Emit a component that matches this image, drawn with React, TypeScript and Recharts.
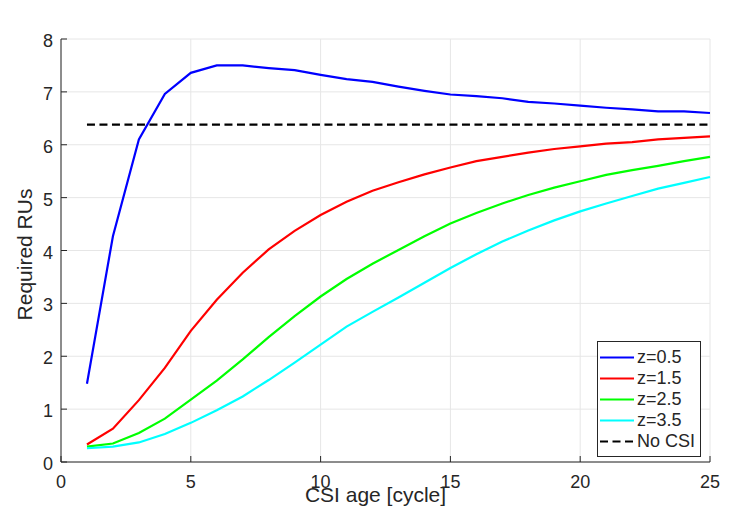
import { LineChart, Line, XAxis, YAxis, CartesianGrid, Legend } from "recharts";

const cycles = [1, 2, 3, 4, 5, 6, 7, 8, 9, 10, 11, 12, 13, 14, 15, 16, 17, 18, 19, 20, 21, 22, 23, 24, 25];

const z05 = [1.48, 4.27, 6.1, 6.96, 7.36, 7.5, 7.5, 7.45, 7.41, 7.32, 7.24, 7.19, 7.1, 7.02, 6.95, 6.92, 6.88, 6.81, 6.78, 6.74, 6.7, 6.67, 6.63, 6.63, 6.6];
const z15 = [0.33, 0.63, 1.17, 1.78, 2.48, 3.07, 3.58, 4.02, 4.37, 4.67, 4.92, 5.13, 5.29, 5.44, 5.57, 5.69, 5.77, 5.85, 5.92, 5.97, 6.02, 6.05, 6.1, 6.13, 6.16];
const z25 = [0.29, 0.35, 0.55, 0.82, 1.18, 1.54, 1.94, 2.36, 2.76, 3.13, 3.46, 3.75, 4.01, 4.27, 4.51, 4.71, 4.89, 5.05, 5.19, 5.31, 5.43, 5.52, 5.6, 5.69, 5.77];
const z35 = [0.26, 0.29, 0.37, 0.53, 0.74, 0.98, 1.24, 1.55, 1.88, 2.22, 2.56, 2.84, 3.11, 3.39, 3.67, 3.93, 4.17, 4.38, 4.57, 4.74, 4.89, 5.03, 5.17, 5.28, 5.39];
const noCsi = [6.38, 6.38, 6.38, 6.38, 6.38, 6.38, 6.38, 6.38, 6.38, 6.38, 6.38, 6.38, 6.38, 6.38, 6.38, 6.38, 6.38, 6.38, 6.38, 6.38, 6.38, 6.38, 6.38, 6.38, 6.38];

const xTicks = [0, 5, 10, 15, 20, 25];
const yTicks = [0, 1, 2, 3, 4, 5, 6, 7, 8];

const series = [
  { key: "z05", name: "z=0.5", color: "#0000ff", dash: undefined },
  { key: "z15", name: "z=1.5", color: "#ff0000", dash: undefined },
  { key: "z25", name: "z=2.5", color: "#00ff00", dash: undefined },
  { key: "z35", name: "z=3.5", color: "#00ffff", dash: undefined },
  { key: "noCsi", name: "No CSI", color: "#000000", dash: "8 4.5" },
];

const data = cycles.map((c, i) => ({
  cycle: c,
  z05: z05[i],
  z15: z15[i],
  z25: z25[i],
  z35: z35[i],
  noCsi: noCsi[i],
}));

const FONT = "'Liberation Sans', Arial, Helvetica, sans-serif";
const INK = "#262626";

const BottomTick = (props: any) => {
  const { x, y, payload } = props;
  return (
    <g>
      <line x1={x} y1={y} x2={x} y2={y - 6} stroke={INK} strokeWidth={1} />
      <text x={x} y={y + 26} textAnchor="middle" fill={INK} fontSize={18} fontFamily={FONT}>
        {payload.value}
      </text>
    </g>
  );
};

const LeftTick = (props: any) => {
  const { x, y, payload } = props;
  return (
    <g>
      <line x1={x} y1={y} x2={x + 6} y2={y} stroke={INK} strokeWidth={1} />
      <text x={x - 8} y={y + 8} textAnchor="end" fill={INK} fontSize={18} fontFamily={FONT}>
        {payload.value}
      </text>
    </g>
  );
};

const TopTick = (props: any) => {
  const { x, y } = props;
  return <line x1={x} y1={y} x2={x} y2={y + 6} stroke={INK} strokeWidth={1} />;
};

const RightTick = (props: any) => {
  const { x, y } = props;
  return <line x1={x} y1={y} x2={x - 6} y2={y} stroke={INK} strokeWidth={1} />;
};

const XLabel = (props: any) => {
  const vb = props.viewBox;
  return (
    <text x={vb.x + vb.width / 2 - 10} y={vb.y + 40} textAnchor="middle" fill={INK} fontSize={21} fontFamily={FONT}>
      CSI age [cycle]
    </text>
  );
};

const YLabel = (props: any) => {
  const vb = props.viewBox;
  const cx = 32;
  const cy = vb.y + vb.height / 2 + 4;
  return (
    <text x={cx} y={cy} transform={`rotate(-90, ${cx}, ${cy})`} textAnchor="middle" fill={INK} fontSize={21} fontFamily={FONT}>
      Required RUs
    </text>
  );
};

const LegendBox = () => (
  <div
    style={{
      width: 102,
      height: 109,
      border: `1px solid ${INK}`,
      background: "#fff",
      paddingTop: 5,
      boxSizing: "content-box",
      fontFamily: FONT,
      fontSize: 18,
      color: INK,
    }}
  >
    {series.map((s) => (
      <div key={s.key} style={{ display: "flex", alignItems: "center", height: 21 }}>
        <svg width={34} height={21} style={{ marginLeft: 2 }}>
          <line x1={0} y1={10.5} x2={34} y2={10.5} stroke={s.color} strokeWidth={2.2} strokeDasharray={s.dash} />
        </svg>
        <span style={{ marginLeft: 3, lineHeight: "21px", whiteSpace: "nowrap" }}>{s.name}</span>
      </div>
    ))}
  </div>
);

export default function App() {
  return (
    <div style={{ position: "absolute", left: 0, top: 0, background: "#fff" }}>
      <LineChart width={747} height={514} data={data} margin={{ top: 39, right: 37, bottom: 0, left: 0 }}>
        <CartesianGrid stroke="#e6e6e6" strokeWidth={1} />
        <XAxis
          dataKey="cycle"
          type="number"
          domain={[0, 25]}
          ticks={xTicks}
          height={52}
          tickSize={0}
          tickMargin={0}
          tickLine={false}
          axisLine={{ stroke: INK, strokeWidth: 1 }}
          tick={<BottomTick />}
          interval={0}
          label={<XLabel />}
        />
        <XAxis
          xAxisId="top"
          orientation="top"
          dataKey="cycle"
          type="number"
          domain={[0, 25]}
          ticks={xTicks}
          height={0}
          tickSize={0}
          tickMargin={0}
          tickLine={false}
          axisLine={{ stroke: INK, strokeWidth: 1 }}
          tick={<TopTick />}
          interval={0}
        />
        <YAxis
          type="number"
          domain={[0, 8]}
          ticks={yTicks}
          width={61}
          tickSize={0}
          tickMargin={0}
          tickLine={false}
          axisLine={{ stroke: INK, strokeWidth: 1 }}
          tick={<LeftTick />}
          interval={0}
          label={<YLabel />}
        />
        <YAxis
          yAxisId="right"
          orientation="right"
          type="number"
          domain={[0, 8]}
          ticks={yTicks}
          width={0}
          tickSize={0}
          tickMargin={0}
          tickLine={false}
          axisLine={{ stroke: INK, strokeWidth: 1 }}
          tick={<RightTick />}
          interval={0}
        />
        {series.map((s) => (
          <Line
            key={s.key}
            type="linear"
            dataKey={s.key}
            name={s.name}
            stroke={s.color}
            strokeWidth={2.2}
            strokeDasharray={s.dash}
            dot={false}
            activeDot={false}
            isAnimationActive={false}
          />
        ))}
        <Legend
          layout="vertical"
          align="center"
          verticalAlign="middle"
          content={<LegendBox />}
          wrapperStyle={{ left: 597, top: 341, width: 104, height: 115 }}
        />
      </LineChart>
    </div>
  );
}
